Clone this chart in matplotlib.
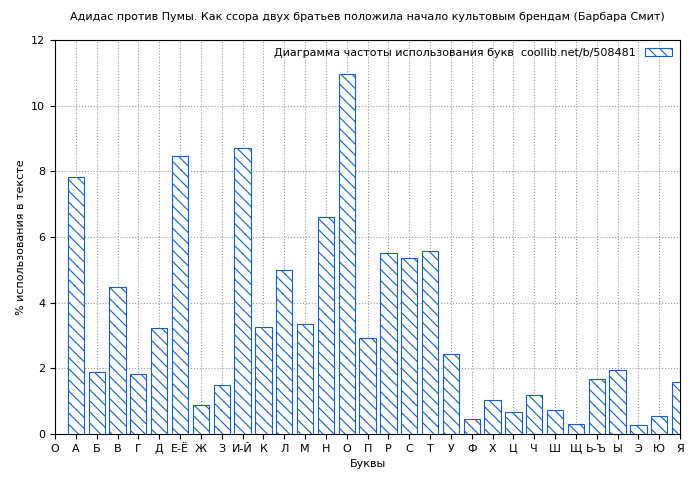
import matplotlib.pyplot as plt

letters = ["О", "А", "Б", "В", "Г", "Д", "Е-Ё", "Ж", "З", "И-Й", "К", "Л", "М", "Н", "О", "П",
           "Р", "С", "Т", "У", "Ф", "Х", "Ц", "Ч", "Ш", "Щ", "Ь-Ъ", "Ы", "Э", "Ю", "Я"]
values = [7.83, 1.89, 4.48, 1.83, 3.23, 8.47, 0.88, 1.49, 8.71, 3.26, 5.0, 3.35, 6.61, 10.97,
          2.92, 5.51, 5.36, 5.57, 2.43, 0.46, 1.04, 0.67, 1.19, 0.73, 0.3, 1.68, 1.95, 0.27, 0.55, 1.58]

plt.rcParams['font.size'] = 8
plt.rcParams['hatch.color'] = '#1560bd'
plt.rcParams['hatch.linewidth'] = 0.8

fig = plt.figure(figsize=(7, 4.8), dpi=100)
ax = fig.add_axes([0.0786, 0.096, 0.893, 0.821])
xs = list(range(1, len(values) + 1))
ax.bar(xs, values, width=0.78, facecolor='white', edgecolor='#1560bd', linewidth=0.8,
       hatch='\\\\\\', label="Диаграмма частоты использования букв  coollib.net/b/508481", zorder=3)
ax.set_xlim(0, 30)
ax.set_ylim(0, 12)
ax.set_xticks(range(31))
ax.set_xticklabels(letters)
ax.set_yticks(range(0, 13, 2))
ax.grid(True, linestyle=':', color='#999999', linewidth=0.8, zorder=0)
ax.set_axisbelow(True)
ax.set_xlabel("Буквы")
ax.set_ylabel("% использования в тексте")
ax.set_title("Адидас против Пумы. Как ссора двух братьев положила начало культовым брендам (Барбара Смит)",
             fontsize=8, pad=14)
leg = ax.legend(loc='upper right', frameon=False, markerfirst=False, handlelength=2.5, borderaxespad=0.3)
fig.savefig("out.png")
